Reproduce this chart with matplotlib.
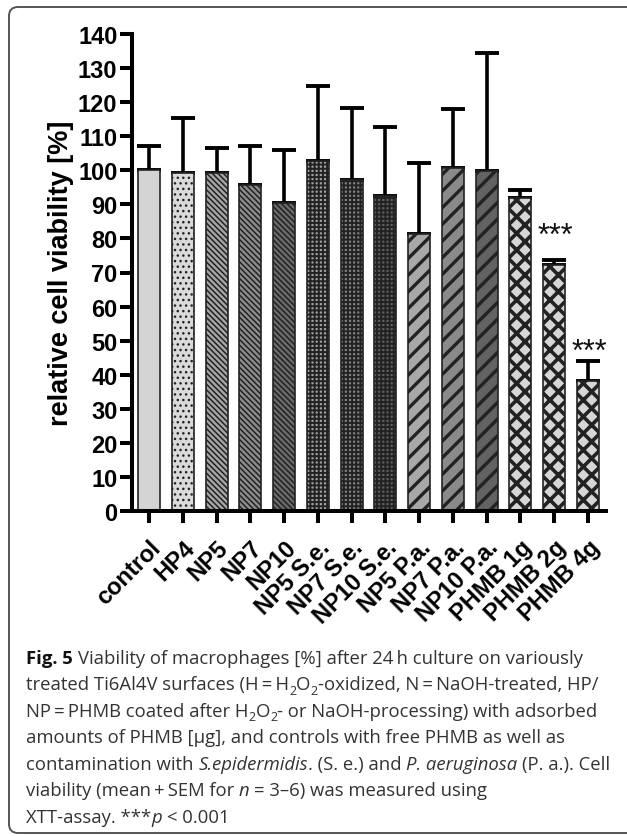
import matplotlib
matplotlib.use("Agg")
import matplotlib.pyplot as plt
import numpy as np
from matplotlib.patches import FancyBboxPatch
from matplotlib.transforms import IdentityTransform

categories = ["control", "HP4", "NP5", "NP7", "NP10", "NP5 S.e.", "NP7 S.e.",
              "NP10 S.e.", "NP5 P.a.", "NP7 P.a.", "NP10 P.a.", "PHMB 1g",
              "PHMB 2g", "PHMB 4g"]
means = [100.0, 99.1, 99.3, 95.7, 90.4, 102.7, 97.2, 92.5, 81.4, 100.8, 99.9,
         91.9, 72.2, 38.1]
upper = [107.2, 115.4, 106.5, 107.0, 105.9, 124.7, 118.2, 112.8, 102.2, 118.0,
         134.4, 94.3, 73.8, 44.1]
sem = [u - m for u, m in zip(upper, means)]
yticks = list(range(0, 150, 10))
signif = {"PHMB 2g": "***", "PHMB 4g": "***"}

faces = ["#d4d4d4", "#dadada", "#a6a6a6", "#8c8c8c", "#6b6b6b", "#a0a0a0",
         "#808080", "#606060", "#a8a8a8", "#8a8a8a", "#626262", "#d6d6d6",
         "#d6d6d6", "#d6d6d6"]
hatches = ["", "...", "\\\\\\\\\\\\", "\\\\\\\\\\\\", "\\\\\\\\\\\\", "++++", "++++", "++++",
           "//", "//", "//", "xx", "xx", "xx"]
hatch_lw = [1, 1.0, 1.1, 1.1, 1.1, 1.4, 1.4, 1.4, 2.4, 2.4, 2.4, 2.6, 2.6, 2.6]

W, H = 627, 837
fig = plt.figure(figsize=(W / 100, H / 100), dpi=100)
ax = fig.add_axes([131.5 / W, 325 / H, 474 / W, 477 / H])

x = np.arange(len(categories))
bars = ax.bar(x, means, width=0.65, color=faces, edgecolor="#222222",
              linewidth=1.2, zorder=2)
for b, h, lw in zip(bars, hatches, hatch_lw):
    if h:
        b.set_hatch(h)
        if hasattr(b, "set_hatch_linewidth"):
            b.set_hatch_linewidth(lw)
ax.errorbar(x, means, yerr=[np.zeros(len(sem)), sem], fmt="none",
            ecolor="black", elinewidth=2.6, capsize=8.5, capthick=2.8, zorder=1)

for name, s in signif.items():
    i = categories.index(name)
    ax.text(i + 0.05, means[i] + 8.5, s, ha="center", va="center",
            fontsize=22, family="Liberation Sans", color="#111111")

ax.set_xlim(-0.52, len(categories) - 0.48)
ax.set_ylim(0, 140)
ax.set_yticks(yticks)
ax.set_xticks(x)
ax.set_xticklabels(categories, rotation=45, ha="right", va="top",
                   rotation_mode="anchor")
for lab in ax.get_xticklabels() + ax.get_yticklabels():
    lab.set_fontweight("bold")
    lab.set_family("Liberation Sans")
    lab.set_fontsize(17)
ax.tick_params(axis="both", direction="out", length=8.6, width=2.9,
               color="black")
ax.tick_params(axis="y", pad=1.5)
ax.tick_params(axis="x", pad=9)
for sp in ["top", "right"]:
    ax.spines[sp].set_visible(False)
for sp in ["left", "bottom"]:
    ax.spines[sp].set_linewidth(2.9)
ax.set_ylabel("relative cell viability [%]", fontsize=19.5, fontweight="bold",
              family="Liberation Sans", labelpad=3)

# border
border = FancyBboxPatch((9, 3), 640, 826, boxstyle="round,pad=0,rounding_size=9",
                        transform=IdentityTransform(), facecolor="none",
                        edgecolor="#555555", linewidth=1.4)
fig.patches.append(border)

# caption
caption = [
    [("Fig. 5", "b"), (" Viability of macrophages [%] after 24\u2009h culture on variously", "r")],
    [("treated Ti6Al4V surfaces (H\u2009=\u2009H", "r"), ("2", "sub"), ("O", "r"), ("2", "sub"),
     ("-oxidized, N\u2009=\u2009NaOH-treated, HP/", "r")],
    [("NP\u2009=\u2009PHMB coated after H", "r"), ("2", "sub"), ("O", "r"), ("2", "sub"),
     ("- or NaOH-processing) with adsorbed", "r")],
    [("amounts of PHMB [µg], and controls with free PHMB as well as", "r")],
    [("contamination with ", "r"), ("S.epidermidis", "i"), (". (S. e.) and ", "r"),
     ("P. aeruginosa", "i"), (" (P. a.). Cell", "r")],
    [("viability (mean\u2009+\u2009SEM for ", "r"), ("n", "i"), (" = 3–6) was measured using", "r")],
    [("XTT-assay. ***", "r"), ("p", "i"), (" < 0.001", "r")],
]

renderer = fig.canvas.get_renderer()
FAM = ["Open Sans", "DejaVu Sans"]


def measure(txt, size, **kw):
    t = fig.text(0, 0, txt, fontsize=size, family=FAM, transform=IdentityTransform(), **kw)
    w = t.get_window_extent(renderer).width
    t.remove()
    return w


def space_w(size, **kw):
    return measure("x x", size, **kw) - measure("xx", size, **kw)


def style_kw(st):
    if st == "b":
        return dict(fontweight="bold")
    if st == "i":
        return dict(style="italic")
    return {}


def line_width(segs, size):
    tot = 0
    for txt, st in segs:
        s = size * 0.68 if st == "sub" else size
        kw = style_kw(st)
        stripped = txt.strip(" ")
        lead = len(txt) - len(txt.lstrip(" "))
        trail = len(txt) - len(txt.rstrip(" "))
        sp = space_w(s, **kw)
        tot += (lead + trail) * sp + (measure(stripped, s, **kw) if stripped else 0)
    return tot


def draw_line(x0, ybase, segs, size):
    xx = x0
    for txt, st in segs:
        s = size * 0.68 if st == "sub" else size
        kw = style_kw(st)
        yy = ybase - (size * 0.22 * 100 / 72 if st == "sub" else 0)
        col = "#111111" if st == "b" else "#333333"
        stripped = txt.strip(" ")
        lead = len(txt) - len(txt.lstrip(" "))
        trail = len(txt) - len(txt.rstrip(" "))
        sp = space_w(s, **kw)
        xx += lead * sp
        if stripped:
            t = fig.text(xx, yy, stripped, fontsize=s, family=FAM, color=col,
                         ha="left", va="baseline", transform=IdentityTransform(), **kw)
            xx += t.get_window_extent(renderer).width
        xx += trail * sp


base_size = 13
target = 607 - 26
size = base_size * target / line_width(caption[4], base_size)
for k, segs in enumerate(caption):
    ybase = H - (664 + 26.5 * k)
    draw_line(26, ybase, segs, size)

fig.savefig("out.png", dpi=100)
